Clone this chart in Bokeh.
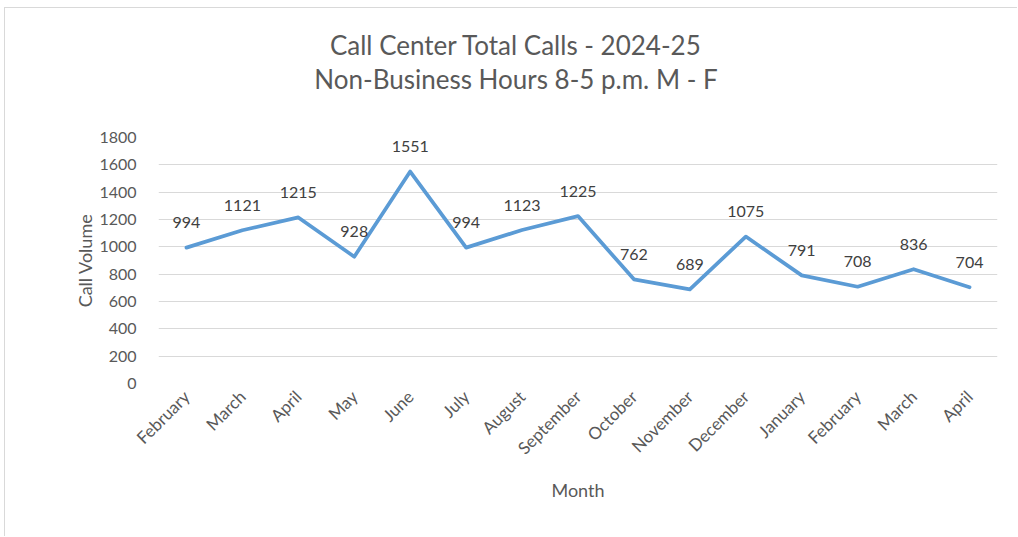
import math
from bokeh.plotting import figure
from bokeh.models import ColumnDataSource, FixedTicker, Title, LabelSet
from bokeh.core.properties import value
from bokeh.embed import file_html
from bokeh.resources import INLINE

months = ["February", "March", "April", "May", "June", "July", "August",
          "September", "October", "November", "December", "January",
          "February", "March", "April"]
calls = [994, 1121, 1215, 928, 1551, 994, 1123, 1225, 762, 689, 1075, 791, 708, 836, 704]
y_ticks = [0, 200, 400, 600, 800, 1000, 1200, 1400, 1600, 1800]
title_lines = ["Call Center Total Calls - 2024-25", "Non-Business Hours 8-5 p.m. M - F"]

FONT = "Lato"
GREY = "#595959"

xs = list(range(len(months)))
src = ColumnDataSource(dict(x=xs, y=calls, lab=[str(v) for v in calls]))

FW, FH = 839, 246
p = figure(frame_width=FW, frame_height=FH, output_backend="svg", toolbar_location=None,
           x_range=(-0.5, len(months) - 0.5), y_range=(0, 1800),
           min_border_left=153, min_border_right=20, min_border_bottom=153,
           min_border_top=129,
           styles={"margin-left": "4px", "margin-top": "7px",
                   "border-left": "1px solid #d9d9d9", "border-top": "1px solid #d9d9d9"})

p.line("x", "y", source=src, line_color="#5B9BD5", line_width=3.75,
       line_join="round", line_cap="round")

labels = LabelSet(x="x", y="y", text="lab", source=src, text_align="center",
                  text_baseline="middle", y_offset=25, text_font=value(FONT),
                  text_font_size="16px", text_color="#404040")
p.add_layout(labels)

p.xaxis.ticker = FixedTicker(ticks=xs)
p.xaxis.major_label_overrides = {i: m for i, m in enumerate(months)}
p.xaxis.major_label_orientation = math.pi / 4
p.yaxis.ticker = FixedTicker(ticks=y_ticks)

for ax in (p.xaxis[0], p.yaxis[0]):
    ax.axis_line_color = None
    ax.major_tick_line_color = None
    ax.minor_tick_line_color = None
    ax.major_label_text_font = FONT
    ax.major_label_text_font_size = "16px"
    ax.major_label_text_color = GREY
    ax.axis_label_text_font = FONT
    ax.axis_label_text_font_size = "18px"
    ax.axis_label_text_color = GREY
    ax.axis_label_text_font_style = "normal"

p.xaxis.major_label_text_font_size = "17px"
p.yaxis.axis_label = "Call Volume"
p.yaxis.major_label_standoff = 16
p.yaxis.axis_label_standoff = 0
p.xaxis.axis_label = "Month"
p.xaxis.major_label_standoff = 4
p.xaxis.axis_label_standoff = 10

p.xgrid.grid_line_color = None
p.ygrid.grid_line_color = "#d9d9d9"
p.ygrid.grid_line_width = 1
p.outline_line_color = None
p.title = None

# second line sits nearest the frame, first line above it; right padding
# shifts both lines toward the centre of the whole chart
t2 = Title(text=title_lines[1], align="center", text_font=FONT, text_font_size="26px",
           text_color=GREY, text_font_style="normal", standoff=0,
           padding={"left": 0, "right": 124, "top": 0, "bottom": 43})
t1 = Title(text=title_lines[0], align="center", text_font=FONT, text_font_size="26px",
           text_color=GREY, text_font_style="normal", standoff=0,
           padding={"left": 0, "right": 124, "top": 0, "bottom": 0})
p.add_layout(t2, "above")
p.add_layout(t1, "above")

open("out.html", "w").write(file_html(p, INLINE))
